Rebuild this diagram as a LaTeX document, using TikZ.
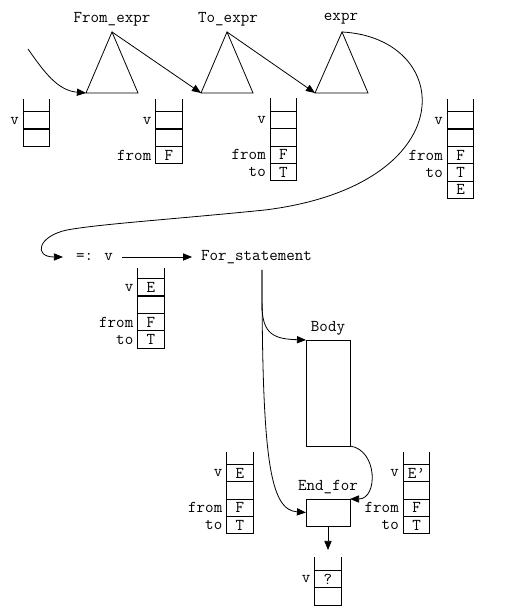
\documentclass[tikz,border=0pt]{standalone}
\usepackage{fontspec}
\usetikzlibrary{arrows.meta}
\usetikzlibrary{positioning}

\begin{document}
\begin{tikzpicture}[x=0.75pt, y=0.75pt, line width=0.6pt,
    txt/.style={font=\ttfamily\fontsize{12.4}{14}\selectfont, inner sep=0pt},
    cell/.style={draw, txt, minimum width=20pt, minimum height=13pt, outer sep=0pt},
    box/.style={draw, minimum width=33pt, inner sep=0pt, outer sep=0pt},
    arr/.style={-{Triangle[length=6.8pt,width=5.4pt]}},
    vline/.style={line width=1.2pt}]
\useasboundingbox (0,0) rectangle (531,616);

% the three expressions
\coordinate (fromtop) at (112,584);
\coordinate (fromleft) at (86,523);
\coordinate (fromright) at (138,523);
\coordinate (totop) at (227,584);
\coordinate (toleft) at (201,523);
\coordinate (toright) at (253,523);
\coordinate (exprtop) at (342,584);
\coordinate (exprleft) at (315,523);
\coordinate (exprright) at (368,523);
\draw (fromtop) -- (fromleft) -- (fromright) -- cycle;
\draw (totop) -- (toleft) -- (toright) -- cycle;
\draw (exprtop) -- (exprleft) -- (exprright) -- cycle;
\node[txt] (fromlbl) at (112,597) {From\_expr};
\node[txt] (tolbl) at (228,597) {To\_expr};
\node[txt] (exprlbl) at (341,597) {expr};

\coordinate (start) at (28,567);
\draw[arr] (start) to[out=-55,in=175] (fromleft);
\draw[arr] (fromtop) -- (toleft);
\draw[arr] (totop) -- (exprleft);

% stacks below the expressions
\node[cell] (s1a) at (36.5,495.5) {};
\node[cell, below=0pt of s1a] (s1b) {};
\draw (s1a.north west) -- ++(0,13) (s1a.north east) -- ++(0,13);
\draw[vline] (s1a.south west) -- (s1a.south east);
\node[txt, left=3pt of s1a] (s1v) {v};

\node[cell] (s2a) at (169,495.5) {};
\node[cell, below=0pt of s2a] (s2b) {};
\node[cell, below=0pt of s2b] (s2c) {F};
\draw (s2a.north west) -- ++(0,13) (s2a.north east) -- ++(0,13);
\draw[vline] (s2a.south west) -- (s2a.south east);
\node[txt, left=3pt of s2a] (s2v) {v};
\node[txt, left=3pt of s2c] (s2from) {from};

\node[cell] (s3a) at (283.5,496) {};
\node[cell, below=0pt of s3a] (s3b) {};
\node[cell, below=0pt of s3b] (s3c) {F};
\node[cell, below=0pt of s3c] (s3d) {T};
\draw (s3a.north west) -- ++(0,13) (s3a.north east) -- ++(0,13);
\draw[vline] (s3a.south west) -- (s3a.south east);
\node[txt, left=3pt of s3a] (s3v) {v};
\node[txt, left=3pt of s3c] (s3from) {from};
\node[txt, left=3pt of s3d] (s3to) {to};

\node[cell] (s4a) at (460.5,495.5) {};
\node[cell, below=0pt of s4a] (s4b) {};
\node[cell, below=0pt of s4b] (s4c) {F};
\node[cell, below=0pt of s4c] (s4d) {T};
\node[cell, below=0pt of s4d] (s4e) {E};
\draw (s4a.north west) -- ++(0,13) (s4a.north east) -- ++(0,13);
\draw[vline] (s4a.south west) -- (s4a.south east);
\node[txt, left=3pt of s4a] (s4v) {v};
\node[txt, left=3pt of s4c] (s4from) {from};
\node[txt, left=3pt of s4d] (s4to) {to};

% assignment and for statement
\node[txt, inner xsep=6.5pt] (assign) at (94.5,359) {=: v};
\node[txt, inner xsep=6.5pt] (forst) at (256.5,359) {For\_statement};
\draw[arr, shorten >=3pt] (exprtop) .. controls (455,578) and (465,431) .. (265,406)
    .. controls (165,396) and (100,392) .. (67,386)
    .. controls (38,380) and (33,359) .. (assign.west);
\draw[arr] (assign) -- (forst);

\node[cell] (s5a) at (151,328.5) {E};
\node[cell, below=0pt of s5a] (s5b) {};
\node[cell, below=0pt of s5b] (s5c) {F};
\node[cell, below=0pt of s5c] (s5d) {T};
\draw (s5a.north west) -- ++(0,11) (s5a.north east) -- ++(0,11);
\draw[vline] (s5a.south west) -- (s5a.south east);
\node[txt, left=3pt of s5a] (s5v) {v};
\node[txt, left=3pt of s5c] (s5from) {from};
\node[txt, left=3pt of s5d] (s5to) {to};

% body and end of the loop
\node[box, minimum height=79.5pt] (body) at (328,223) {};
\node[txt] (bodylbl) at (328,288) {Body};
\node[box, minimum height=20.25pt] (endfor) at (328,103.5) {};
\node[txt] (endlbl) at (328,129.3) {End\_for};

\coordinate (forbot) at (262,346);
\draw[arr] (forbot) -- (262,311) .. controls (262,281) and (275,277) .. (body.north west);
\draw[arr] (forbot) .. controls (262,156) and (270,106) .. (endfor.west);
\draw[arr] (body.south east) .. controls (378,166) and (378,117) .. (endfor.north east);
\coordinate (qtop) at (328,66);
\draw[arr] (endfor.south) -- (qtop);

\node[cell] (s6a) at (240,143) {E};
\node[cell, below=0pt of s6a] (s6b) {};
\node[cell, below=0pt of s6b] (s6c) {F};
\node[cell, below=0pt of s6c] (s6d) {T};
\draw (s6a.north west) -- ++(0,12) (s6a.north east) -- ++(0,12);
\draw[vline] (s6a.south west) -- (s6a.south east);
\node[txt, left=3pt of s6a] (s6v) {v};
\node[txt, left=3pt of s6c] (s6from) {from};
\node[txt, left=3pt of s6d] (s6to) {to};

\node[cell] (s7a) at (416.5,143) {E’};
\node[cell, below=0pt of s7a] (s7b) {};
\node[cell, below=0pt of s7b] (s7c) {F};
\node[cell, below=0pt of s7c] (s7d) {T};
\draw (s7a.north west) -- ++(0,12) (s7a.north east) -- ++(0,12);
\draw[vline] (s7a.south west) -- (s7a.south east);
\node[txt, left=3pt of s7a] (s7v) {v};
\node[txt, left=3pt of s7c] (s7from) {from};
\node[txt, left=3pt of s7d] (s7to) {to};

\node[cell] (s8a) at (328,37) {?};
\node[cell, below=0pt of s8a] (s8b) {};
\draw (s8a.north west) -- ++(0,13) (s8a.north east) -- ++(0,13);
\draw[vline] (s8a.south west) -- (s8a.south east);
\node[txt, left=3pt of s8a] (s8v) {v};

\end{tikzpicture}
\end{document}
